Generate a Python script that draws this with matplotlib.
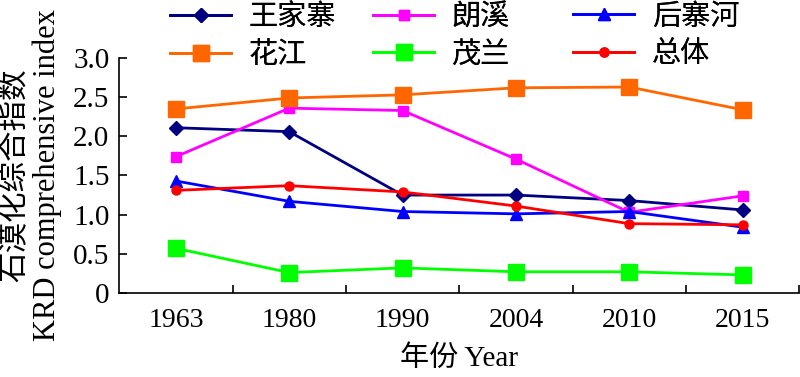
import matplotlib
matplotlib.use("Agg")
import matplotlib.pyplot as plt

plt.rcParams['font.family'] = ['Liberation Serif', 'Noto Sans CJK SC']

years = ["1963", "1980", "1990", "2004", "2010", "2015"]
wangjiazhai = [2.11, 2.06, 1.25, 1.25, 1.18, 1.06]
langxi = [1.74, 2.36, 2.33, 1.71, 1.03, 1.24]
houzhaihe = [1.43, 1.17, 1.04, 1.01, 1.04, 0.84]
huajiang = [2.35, 2.49, 2.53, 2.62, 2.63, 2.34]
maolan = [0.57, 0.26, 0.32, 0.27, 0.27, 0.23]
zongti = [1.31, 1.37, 1.29, 1.11, 0.885, 0.87]

yticks = [0, 0.5, 1.0, 1.5, 2.0, 2.5, 3.0]
ytick_labels = ["0", "0.5", "1.0", "1.5", "2.0", "2.5", "3.0"]

fig = plt.figure(figsize=(8, 3.77), dpi=100)
ax = fig.add_axes([0.149, 0.223, 0.85, 0.623])

x = list(range(len(years)))
lw = 2.0
l1, = ax.plot(x, wangjiazhai, color='#000080', marker='D', markersize=7, lw=lw, label='王家寨')
l2, = ax.plot(x, langxi, color='#FF00FF', marker='s', markersize=7, lw=lw, label='朗溪')
l3, = ax.plot(x, houzhaihe, color='#0000FF', marker='^', markersize=8, lw=lw, label='后寨河')
l4, = ax.plot(x, huajiang, color='#FF6600', marker='s', markersize=11, lw=lw, label='花江')
l5, = ax.plot(x, maolan, color='#00FF00', marker='s', markersize=11, lw=lw, label='茂兰')
l6, = ax.plot(x, zongti, color='#FF0000', marker='o', markersize=6.5, lw=lw, label='总体')

ax.set_xlim(-0.5, 5.5)
ax.set_ylim(0, 3.0)
ax.set_xticks(x)
ax.set_xticklabels(years)
ax.set_xticks([i + 0.5 for i in x], minor=True)
ax.tick_params(axis='x', which='major', length=0, pad=11, labelsize=20)
ax.tick_params(axis='x', which='minor', direction='in', length=6, width=1.2)
ax.set_yticks(yticks)
ax.set_yticklabels(ytick_labels)
ax.tick_params(axis='y', direction='in', length=6, width=1.2, labelsize=21, pad=7)

for s in ['top', 'right']:
    ax.spines[s].set_visible(False)
for s in ['left', 'bottom']:
    ax.spines[s].set_linewidth(1.2)

ax.set_xlabel('年份 Year', fontsize=21, labelpad=9)
ax.set_ylabel('石漠化综合指数\nKRD comprehensive index', fontsize=22,
              linespacing=1.15)
ax.yaxis.set_label_coords(-0.084, 0.5)

# three legend columns with even spacing, as in the original
cols = [([l1, l4], 170), ([l2, l5], 373), ([l3, l6], 573)]
for handles, px in cols:
    leg = fig.legend(handles=handles, loc='upper left',
                     bbox_to_anchor=(px / 800, 1 - 4 / 377), frameon=False,
                     fontsize=21, handlelength=2.1, handletextpad=0.6,
                     labelspacing=0.38, borderpad=0, borderaxespad=0)
    fig.add_artist(leg)

fig.savefig('out.png', dpi=100)
